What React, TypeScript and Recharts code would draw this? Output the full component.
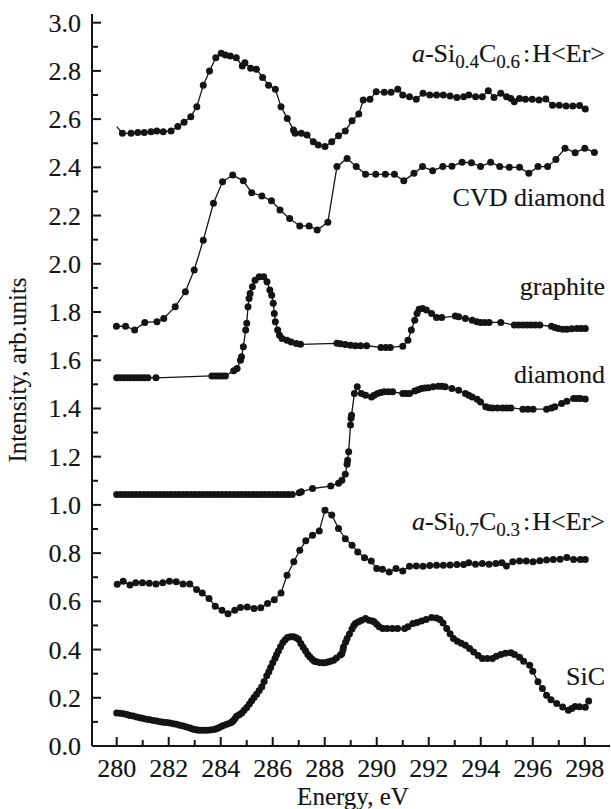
import React from 'react';
import { LineChart, Line, XAxis, YAxis } from 'recharts';

const FONT = "'Liberation Serif', 'Times New Roman', Times, 'DejaVu Serif', serif";
const INK = '#141414';
const TXT = { fontFamily: FONT, stroke: INK, strokeWidth: 0.15 } as React.CSSProperties;

const xTicks = [280, 281, 282, 283, 284, 285, 286, 287, 288, 289, 290, 291, 292, 293, 294, 295, 296, 297, 298];
const yTicks = [0, 0.1, 0.2, 0.3, 0.4, 0.5, 0.6, 0.7, 0.8, 0.9, 1.0, 1.1, 1.2, 1.3, 1.4, 1.5, 1.6, 1.7, 1.8, 1.9, 2.0, 2.1, 2.2, 2.3, 2.4, 2.5, 2.6, 2.7, 2.8, 2.9, 3.0];

type P = [number, number];

const aSi04C06: P[] = [
  [280.0, 2.569], [280.22, 2.541], [280.55, 2.541], [280.81, 2.544], [281.06, 2.545], [281.32, 2.548], [281.54, 2.551], [281.79, 2.548], [282.09, 2.551], [282.35, 2.569], [282.59, 2.587], [282.85, 2.61], [283.08, 2.651], [283.33, 2.741], [283.57, 2.8], [283.81, 2.855], [284.02, 2.873], [284.18, 2.866], [284.37, 2.862], [284.6, 2.855], [284.83, 2.82], [284.93, 2.834], [285.15, 2.811], [285.37, 2.807], [285.61, 2.773], [285.84, 2.741], [286.1, 2.724], [286.32, 2.651], [286.56, 2.603], [286.8, 2.555], [286.86, 2.541], [287.1, 2.541], [287.32, 2.534], [287.56, 2.506], [287.75, 2.493], [288.01, 2.486], [288.27, 2.506], [288.53, 2.531], [288.79, 2.551], [289.05, 2.593], [289.31, 2.621], [289.48, 2.679], [289.74, 2.682], [289.98, 2.714], [290.29, 2.711], [290.55, 2.711], [290.81, 2.724], [291.0, 2.7], [291.26, 2.693], [291.52, 2.682], [291.78, 2.707], [292.04, 2.7], [292.3, 2.7], [292.56, 2.7], [292.82, 2.696], [293.08, 2.69], [293.34, 2.693], [293.54, 2.7], [293.8, 2.693], [294.06, 2.693], [294.29, 2.718], [294.51, 2.69], [294.77, 2.707], [294.99, 2.693], [295.16, 2.686], [295.29, 2.672], [295.49, 2.686], [295.72, 2.682], [295.98, 2.682], [296.24, 2.679], [296.5, 2.683], [296.76, 2.658], [297.02, 2.658], [297.28, 2.654], [297.54, 2.654], [297.8, 2.657], [298.02, 2.642],
];

const cvdDiamond: P[] = [
  [279.99, 1.741], [280.34, 1.741], [280.69, 1.725], [281.08, 1.757], [281.55, 1.76], [281.81, 1.773], [282.25, 1.822], [282.64, 1.884], [282.98, 1.974], [283.33, 2.098], [283.72, 2.251], [284.07, 2.34], [284.46, 2.368], [284.87, 2.344], [285.19, 2.295], [285.58, 2.281], [285.95, 2.261], [286.28, 2.223], [286.65, 2.188], [287.04, 2.157], [287.4, 2.157], [287.71, 2.14], [288.12, 2.172], [288.47, 2.403], [288.86, 2.437], [289.21, 2.403], [289.57, 2.371], [289.96, 2.371], [290.33, 2.371], [290.68, 2.371], [291.04, 2.344], [291.43, 2.375], [291.76, 2.403], [292.15, 2.386], [292.54, 2.403], [292.89, 2.405], [293.28, 2.421], [293.64, 2.419], [293.99, 2.403], [294.38, 2.421], [294.73, 2.403], [295.1, 2.4], [295.49, 2.4], [295.85, 2.375], [296.2, 2.403], [296.57, 2.403], [296.89, 2.433], [297.24, 2.479], [297.63, 2.461], [298.0, 2.479], [298.37, 2.462],
];

const graphite: P[] = [
  [280.0, 1.527], [280.13, 1.527], [280.27, 1.527], [280.4, 1.527], [280.53, 1.527], [280.67, 1.527], [280.8, 1.527], [280.93, 1.527], [281.07, 1.527], [281.2, 1.527], [281.51, 1.527],
  [283.66, 1.535], [283.79, 1.535], [283.92, 1.535], [284.05, 1.535], [284.18, 1.535], [284.5, 1.556], [284.63, 1.566], [284.76, 1.6], [284.8, 1.614], [284.87, 1.656], [284.96, 1.725], [285.0, 1.753], [285.05, 1.822], [285.09, 1.856], [285.13, 1.877], [285.22, 1.905], [285.32, 1.932], [285.48, 1.946], [285.65, 1.946], [285.78, 1.925], [285.89, 1.891], [285.96, 1.87], [286.02, 1.836], [286.06, 1.794], [286.1, 1.76], [286.19, 1.725], [286.26, 1.704], [286.36, 1.69], [286.55, 1.683], [286.71, 1.676], [286.91, 1.669], [287.07, 1.666],
  [288.47, 1.67], [288.6, 1.668], [288.79, 1.665], [288.99, 1.662], [289.18, 1.66], [289.38, 1.66], [289.61, 1.66], [290.16, 1.653], [290.35, 1.653], [290.52, 1.653], [291.0, 1.658], [291.2, 1.683], [291.33, 1.725], [291.46, 1.766], [291.55, 1.794], [291.63, 1.811], [291.76, 1.815], [291.91, 1.808], [292.11, 1.794], [292.3, 1.777], [292.5, 1.777], [293.02, 1.783], [293.15, 1.78], [293.41, 1.773], [293.67, 1.766], [293.85, 1.76], [293.99, 1.757], [294.15, 1.757], [294.32, 1.757], [294.77, 1.757], [295.29, 1.746], [295.45, 1.746], [295.62, 1.746], [295.78, 1.746], [295.94, 1.746], [296.1, 1.746], [296.27, 1.746], [296.72, 1.741], [296.85, 1.736], [296.98, 1.732], [297.15, 1.729], [297.31, 1.729], [297.5, 1.731], [297.7, 1.732], [297.86, 1.732], [298.02, 1.732],
];

const diamond: P[] = [
  [280.0, 1.043], [280.15, 1.043], [280.3, 1.043], [280.45, 1.043], [280.6, 1.043], [280.75, 1.043], [280.9, 1.043], [281.05, 1.043], [281.2, 1.043], [281.35, 1.043], [281.5, 1.043], [281.65, 1.043], [281.8, 1.043], [281.95, 1.043], [282.1, 1.043], [282.25, 1.043], [282.4, 1.043], [282.55, 1.043], [282.7, 1.043], [282.85, 1.043], [283.0, 1.043], [283.15, 1.043], [283.3, 1.043], [283.45, 1.043], [283.6, 1.043], [283.75, 1.043], [283.9, 1.043], [284.05, 1.043], [284.2, 1.043], [284.35, 1.043], [284.5, 1.043], [284.65, 1.043], [284.8, 1.043], [284.95, 1.043], [285.1, 1.043], [285.25, 1.043], [285.4, 1.043], [285.55, 1.043], [285.7, 1.043], [285.85, 1.043], [286.0, 1.043], [286.15, 1.043], [286.3, 1.043], [286.45, 1.043], [286.6, 1.043], [286.75, 1.043],
  [287.02, 1.05], [287.1, 1.054], [287.53, 1.068], [288.23, 1.078], [288.53, 1.09], [288.66, 1.102], [288.79, 1.127], [288.86, 1.169], [288.88, 1.185], [288.92, 1.22], [288.99, 1.331], [289.01, 1.359], [289.03, 1.372], [289.14, 1.462], [289.25, 1.49], [289.41, 1.462], [289.57, 1.455], [289.8, 1.448], [289.9, 1.455], [290.03, 1.462], [290.16, 1.466], [290.29, 1.469], [290.45, 1.469], [290.61, 1.469], [291.0, 1.462], [291.13, 1.462], [291.26, 1.462], [291.46, 1.472], [291.59, 1.478], [291.72, 1.483], [291.85, 1.485], [291.98, 1.486], [292.17, 1.49], [292.37, 1.492], [292.5, 1.492], [292.63, 1.49], [292.89, 1.483], [293.15, 1.476], [293.41, 1.462], [293.54, 1.455], [293.67, 1.448], [293.86, 1.438], [293.99, 1.427], [294.19, 1.407], [294.32, 1.403], [294.45, 1.402], [294.64, 1.402], [294.84, 1.402], [295.0, 1.402], [295.16, 1.402], [295.62, 1.397], [295.81, 1.397], [296.01, 1.397], [296.53, 1.397], [296.72, 1.402], [296.85, 1.407], [297.11, 1.421], [297.31, 1.43], [297.57, 1.441], [297.7, 1.441], [297.83, 1.441], [298.02, 1.439],
];

const aSi07C03: P[] = [
  [280.02, 0.671], [280.25, 0.683], [280.51, 0.668], [280.73, 0.677], [280.99, 0.677], [281.25, 0.675], [281.51, 0.672], [281.77, 0.677], [282.03, 0.683], [282.29, 0.681], [282.55, 0.672], [282.81, 0.672], [283.07, 0.649], [283.29, 0.635], [283.55, 0.612], [283.79, 0.58], [284.05, 0.563], [284.28, 0.549], [284.54, 0.563], [284.76, 0.574], [285.02, 0.577], [285.28, 0.57], [285.54, 0.573], [285.8, 0.591], [286.06, 0.607], [286.32, 0.635], [286.55, 0.708], [286.81, 0.764], [287.04, 0.812], [287.27, 0.851], [287.53, 0.874], [287.79, 0.892], [288.01, 0.978], [288.27, 0.958], [288.53, 0.902], [288.79, 0.86], [289.05, 0.833], [289.27, 0.805], [289.53, 0.781], [289.79, 0.767], [290.0, 0.736], [290.22, 0.733], [290.48, 0.722], [290.74, 0.736], [291.0, 0.726], [291.26, 0.746], [291.52, 0.747], [291.78, 0.746], [292.04, 0.749], [292.3, 0.75], [292.56, 0.75], [292.82, 0.751], [293.08, 0.753], [293.34, 0.753], [293.54, 0.76], [293.8, 0.754], [294.06, 0.757], [294.32, 0.754], [294.58, 0.757], [294.81, 0.76], [294.99, 0.747], [295.23, 0.764], [295.49, 0.767], [295.75, 0.767], [296.01, 0.764], [296.27, 0.768], [296.53, 0.771], [296.79, 0.773], [297.05, 0.775], [297.31, 0.782], [297.57, 0.773], [297.83, 0.773], [298.02, 0.773],
];

const siC: P[] = [
  [280.0, 0.137], [280.13, 0.136], [280.26, 0.134], [280.39, 0.131], [280.51, 0.127], [280.64, 0.124], [280.77, 0.12], [280.9, 0.117], [281.02, 0.114], [281.15, 0.111], [281.28, 0.109], [281.41, 0.106], [281.54, 0.104], [281.67, 0.101], [281.79, 0.099], [281.92, 0.097], [282.05, 0.095], [282.18, 0.092], [282.3, 0.09], [282.43, 0.086], [282.56, 0.083], [282.69, 0.079], [282.82, 0.075], [282.92, 0.071], [283.01, 0.068], [283.1, 0.066], [283.2, 0.065], [283.33, 0.065], [283.46, 0.065], [283.59, 0.066], [283.72, 0.068], [283.81, 0.071], [283.9, 0.075], [284.0, 0.08], [284.1, 0.085], [284.23, 0.09], [284.36, 0.095], [284.43, 0.1], [284.49, 0.106], [284.55, 0.114], [284.61, 0.123], [284.71, 0.13], [284.81, 0.137], [284.9, 0.148], [285.0, 0.16], [285.1, 0.174], [285.19, 0.188], [285.28, 0.201], [285.38, 0.215], [285.48, 0.23], [285.58, 0.246], [285.67, 0.268], [285.77, 0.291], [285.85, 0.308], [285.92, 0.326], [286.0, 0.345], [286.09, 0.364], [286.15, 0.38], [286.22, 0.394], [286.3, 0.412], [286.39, 0.429], [286.48, 0.441], [286.57, 0.45], [286.68, 0.453], [286.8, 0.453], [286.9, 0.449], [286.99, 0.443], [287.08, 0.425], [287.17, 0.41], [287.26, 0.395], [287.35, 0.38], [287.43, 0.369], [287.52, 0.36], [287.6, 0.352], [287.69, 0.349], [287.8, 0.346], [287.92, 0.345], [288.01, 0.345], [288.12, 0.348], [288.22, 0.352], [288.34, 0.356], [288.45, 0.365], [288.6, 0.377], [288.66, 0.383], [288.7, 0.398], [288.72, 0.411], [288.8, 0.43], [288.86, 0.446], [288.95, 0.465], [289.05, 0.485], [289.12, 0.5], [289.18, 0.508], [289.3, 0.515], [289.42, 0.522], [289.57, 0.529], [289.7, 0.522], [289.83, 0.518], [289.9, 0.515], [290.0, 0.505], [290.1, 0.495], [290.23, 0.487], [290.4, 0.487], [290.6, 0.487], [290.8, 0.487], [291.07, 0.487], [291.2, 0.495], [291.39, 0.508], [291.55, 0.512], [291.72, 0.518], [291.9, 0.525], [292.11, 0.533], [292.3, 0.531], [292.43, 0.525], [292.55, 0.51], [292.69, 0.487], [292.82, 0.466], [292.95, 0.446], [293.1, 0.434], [293.25, 0.426], [293.41, 0.418], [293.57, 0.404], [293.73, 0.39], [293.9, 0.375], [294.06, 0.363], [294.25, 0.363], [294.45, 0.363], [294.6, 0.372], [294.77, 0.38], [294.95, 0.385], [295.16, 0.387], [295.3, 0.38], [295.49, 0.368], [295.65, 0.352], [295.88, 0.335], [296.0, 0.31], [296.2, 0.266], [296.37, 0.238], [296.53, 0.21], [296.7, 0.192], [296.92, 0.176], [297.15, 0.162], [297.37, 0.148], [297.5, 0.156], [297.63, 0.164], [297.8, 0.163], [298.02, 0.161], [298.15, 0.187],
];

const toRows = (pts: P[]) => pts.map(([x, y]) => ({ x, y }));

const XTick = (props: any) => {
  const { x, y, payload } = props;
  const v = payload.value as number;
  const major = Math.round(v) % 2 === 0;
  return (
    <g>
      <line x1={x} x2={x} y1={y} y2={y - (major ? 9 : 6)} stroke={INK} strokeWidth={2} />
      {major && (
        <text x={x} y={y + 31} textAnchor="middle" fontSize={26} style={TXT} fill={INK}>
          {v}
        </text>
      )}
    </g>
  );
};

const YTick = (props: any) => {
  const { x, y, payload } = props;
  const v = payload.value as number;
  const major = Math.round(v * 10) % 2 === 0;
  return (
    <g>
      <line x1={x} x2={x + (major ? 9 : 6)} y1={y} y2={y} stroke={INK} strokeWidth={2} />
      {major && (
        <text x={x - 11} y={y + 9} textAnchor="end" fontSize={26} style={TXT} fill={INK}>
          {v.toFixed(1)}
        </text>
      )}
    </g>
  );
};

const dotStyle = { r: 3.5, fill: INK, stroke: INK, strokeWidth: 0 };

const NoFirstDot = (props: any) => {
  const { cx, cy, index } = props;
  if (index === 0) return <g key={`d${index}`} />;
  return <circle key={`d${index}`} cx={cx} cy={cy} r={3.5} fill={INK} />;
};

const series: { name: string; pts: P[] }[] = [
  { name: 'aSi04', pts: aSi04C06 },
  { name: 'cvd', pts: cvdDiamond },
  { name: 'graphite', pts: graphite },
  { name: 'diamond', pts: diamond },
  { name: 'aSi07', pts: aSi07C03 },
  { name: 'sic', pts: siC },
];

export default function App() {
  return (
    <div style={{ position: 'absolute', left: 0, top: 0, width: 611, height: 809, background: '#fff', fontFamily: FONT }}>
      <LineChart width={611} height={809} margin={{ top: 14, right: 1, bottom: 0, left: 0 }}>
        <XAxis
          type="number"
          dataKey="x"
          domain={[279.05, 298.97]}
          ticks={xTicks}
          interval={0}
          height={63}
          allowDataOverflow
          axisLine={{ stroke: INK, strokeWidth: 2 }}
          tickLine={false}
          tickSize={0}
          tickMargin={0}
          tick={<XTick />}
        />
        <YAxis
          type="number"
          domain={[0, 3.036]}
          ticks={yTicks}
          interval={0}
          width={92}
          allowDataOverflow
          axisLine={{ stroke: INK, strokeWidth: 2 }}
          tickLine={false}
          tickSize={0}
          tickMargin={0}
          tick={<YTick />}
        />
        {series.map((s) => (
          <Line
            key={s.name}
            data={toRows(s.pts)}
            dataKey="y"
            type="linear"
            stroke={INK}
            strokeWidth={1.3}
            dot={s.name === 'aSi04' ? <NoFirstDot /> : dotStyle}
            activeDot={false}
            isAnimationActive={false}
          />
        ))}
      </LineChart>
      <svg
        width={611}
        height={809}
        style={{ position: 'absolute', left: 0, top: 0, pointerEvents: 'none', fontFamily: FONT }}
        fill={INK}
      >
        <text x={605} y={62} textAnchor="end" fontSize={26} style={TXT}>
          <tspan fontStyle="italic">a</tspan>
          <tspan>-Si</tspan>
          <tspan fontSize={19} dy={6}>0.4</tspan>
          <tspan dy={-6}>C</tspan>
          <tspan fontSize={19} dy={6}>0.6</tspan>
          <tspan dy={-6} dx={3}>:</tspan>
          <tspan dx={2}>H&lt;Er&gt;</tspan>
        </text>
        <text x={605} y={206} textAnchor="end" fontSize={26} style={TXT}>CVD diamond</text>
        <text x={605} y={295} textAnchor="end" fontSize={26} style={TXT}>graphite</text>
        <text x={605} y={383} textAnchor="end" fontSize={26} style={TXT}>diamond</text>
        <text x={605} y={530} textAnchor="end" fontSize={26} style={TXT}>
          <tspan fontStyle="italic">a</tspan>
          <tspan>-Si</tspan>
          <tspan fontSize={19} dy={6}>0.7</tspan>
          <tspan dy={-6}>C</tspan>
          <tspan fontSize={19} dy={6}>0.3</tspan>
          <tspan dy={-6} dx={3}>:</tspan>
          <tspan dx={2}>H&lt;Er&gt;</tspan>
        </text>
        <text x={605} y={685} textAnchor="end" fontSize={26} style={TXT}>SiC</text>
        <text x={353} y={805} textAnchor="middle" fontSize={25} style={TXT}>Energy, eV</text>
        <text transform="translate(26,370) rotate(-90)" textAnchor="middle" fontSize={25} style={TXT}>
          Intensity, arb.units
        </text>
      </svg>
    </div>
  );
}
